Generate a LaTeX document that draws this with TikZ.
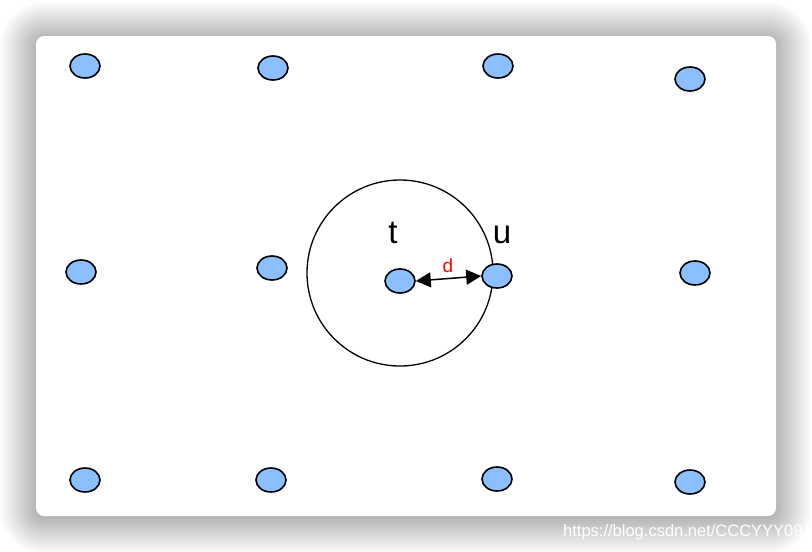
\documentclass[tikz,border=0pt]{standalone}
\usepackage{fontspec}
\setmainfont{Liberation Sans}
\usetikzlibrary{arrows.meta,shapes.geometric}
\definecolor{nodeblue}{HTML}{8CBFFF}
\tikzset{
  pt/.style={ellipse, draw=black, line width=1.6pt, fill=nodeblue, minimum width=30pt, minimum height=24pt, inner sep=0pt},
  lbl/.style={font=\fontsize{33}{33}\selectfont, text=black, inner sep=0pt},
  dblarrow/.style={line width=1.5pt, arrows={Triangle[length=15pt,width=15pt]-Triangle[length=15pt,width=15pt]}},
}
\begin{document}
\begin{tikzpicture}[x=1pt,y=-1pt]
\useasboundingbox (0,0) rectangle (812,552);
\fill[white] (0,0) rectangle (812,552);
% shadow
\foreach \i in {0,...,36}{
  \pgfmathsetmacro{\rc}{8+\i}
  \fill[black, opacity=0.006, rounded corners=\rc pt] (36-\i,38-\i) rectangle (776+\i,518+\i);
}
\fill[white, rounded corners=8pt] (36,36) rectangle (776,516);
% watermark
\begin{scope}
\clip (0,0) rectangle (812,552);
\node[anchor=west, text=white, font=\fontsize{16.5}{16.5}\selectfont, inner sep=0pt] (wm) at (563,532) {https://blog.csdn.net/CCCYYY09};
\end{scope}
% big circle
\node[circle, draw=black, line width=1.3pt, minimum size=186pt, inner sep=0pt] (ring) at (400,273) {};
% points
\node[pt] (a1) at (85,66) {};
\node[pt] (a2) at (273,68) {};
\node[pt] (a3) at (498,66) {};
\node[pt] (a4) at (690,79) {};
\node[pt] (b1) at (81,272) {};
\node[pt] (b2) at (272,268) {};
\node[pt] (t) at (400,281) {};
\node[pt] (u) at (497,276) {};
\node[pt] (b5) at (695,273) {};
\node[pt] (c1) at (85,480) {};
\node[pt] (c2) at (271,480) {};
\node[pt] (c3) at (497,479) {};
\node[pt] (c4) at (690,482) {};
% labels
\node[lbl, anchor=base] (tl) at (393,243) {t};
\node[lbl, anchor=base] (ul) at (502,243) {u};
\node[text=red, font=\fontsize{19}{19}\selectfont, inner sep=0pt, anchor=base] (dl) at (448,272) {d};
% arrow
\draw[dblarrow] (t.east) -- (u.west);
\end{tikzpicture}
\end{document}
